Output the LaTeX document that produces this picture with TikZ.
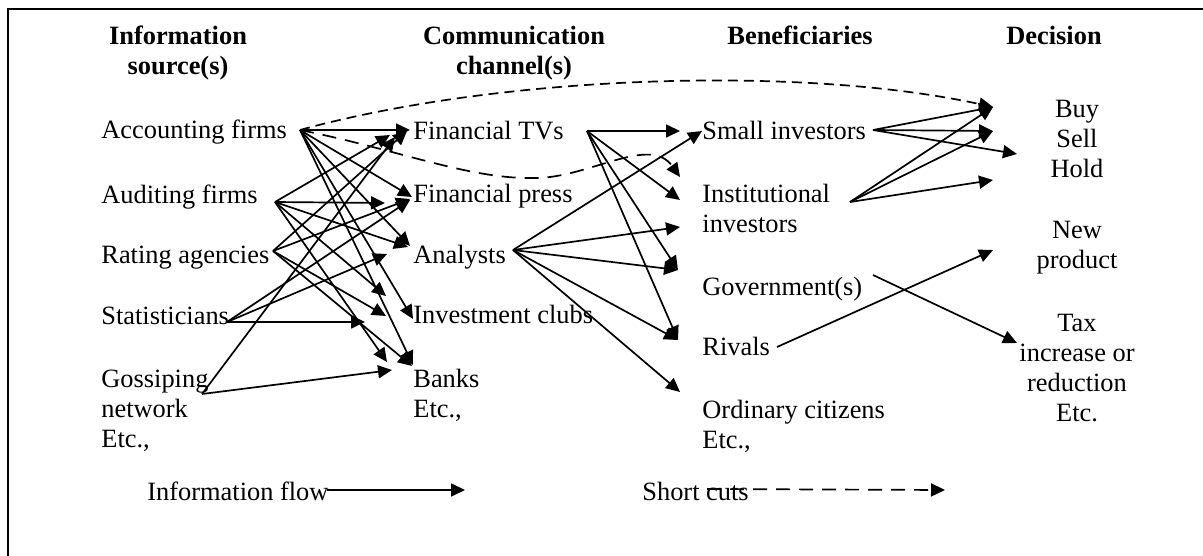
\documentclass[tikz,border=0pt]{standalone}
\usepackage{fontspec}
\setmainfont{Liberation Serif}
\usetikzlibrary{arrows.meta}

\begin{document}
\begin{tikzpicture}[x=0.5pt,y=-0.5pt]
\tikzstyle{every node}=[font=\fontsize{13.2}{15}\selectfont, inner sep=0pt]
\tikzstyle{item}=[anchor=base west, align=left]
\tikzstyle{choice}=[anchor=base, align=center]
\tikzstyle{head}=[choice, font=\fontsize{13.2}{15}\selectfont\bfseries]
\tikzstyle{flow}=[line width=0.85pt, -{Triangle[length=7pt,width=6.5pt]}]
\tikzstyle{shortcut}=[flow, dash pattern=on 7pt off 4.5pt]
\useasboundingbox (0,0) rectangle (1203,556);
\draw[line width=1pt] (8,570) -- (8,9) -- (1215,9);

\node[head] (hsrc) at (178,75) {Information\\source(s)};
\node[head] (hchan) at (514,75) {Communication\\channel(s)};
\node[head] (hben) at (800,45) {Beneficiaries};
\node[head] (hdec) at (1054,45) {Decision};

\node[item] (acc) at (101,139) {Accounting firms};
\node[item] (aud) at (101,203) {Auditing firms};
\node[item] (rat) at (101,263) {Rating agencies};
\node[item] (sta) at (101,324) {Statisticians};
\node[item] (gos) at (101,447) {Gossiping\\network\\Etc.,};

\node[item] (ftv) at (413,140) {Financial TVs};
\node[item] (fpr) at (413,202) {Financial press};
\node[item] (ana) at (413,263) {Analysts};
\node[item] (inv) at (413,323) {Investment clubs};
\node[item] (ban) at (413,417) {Banks\\Etc.,};

\node[item] (sml) at (702,140) {Small investors};
\node[item] (ins) at (702,232) {Institutional\\investors};
\node[item] (gov) at (702,295) {Government(s)};
\node[item] (riv) at (702,355) {Rivals};
\node[item] (ord) at (702,448) {Ordinary citizens\\Etc.,};

\node[choice] (bsh) at (1077,177) {Buy\\Sell\\Hold};
\node[choice] (npr) at (1077,268) {New\\product};
\node[choice] (tax) at (1077,421) {Tax\\increase or\\reduction\\Etc.};

\node[item] (lflow) at (147,500) {Information flow};
\node[item] (lcut) at (642,500) {Short cuts};

\coordinate (acc-o) at (300,130);
\coordinate (aud-o) at (275,202);
\coordinate (rat-o) at (273,251);
\coordinate (sta-o) at (227,322);
\coordinate (gos-o) at (202,394);
\coordinate (ftv-o) at (587,131);
\coordinate (ana-o) at (513,250);
\coordinate (sml-o) at (873,130);
\coordinate (ins-o) at (850,202);
\coordinate (gov-o) at (873,275);
\coordinate (riv-o) at (777,347);

\draw (acc-o) edge[flow] ([shift={(-3,-10)}]ftv.base west)
  edge[flow] ([shift={(-1,-5)}]fpr.base west)
  edge[flow] ([shift={(-3,-17)}]ana.base west)
  edge[flow] ([shift={(0,-4)}]inv.base west)
  edge[flow] ([shift={(0,-52)}]ban.base west);
\draw (aud-o) edge[flow] ([shift={(-23,-5)}]ftv.base west)
  edge[flow] ([shift={(-28,1)}]fpr.base west)
  edge[flow] ([shift={(-5,-16)}]ana.base west)
  edge[flow] ([shift={(-27,-27)}]inv.base west)
  edge[flow] ([shift={(-26,-55)}]ban.base west);
\draw (rat-o) edge[flow] ([shift={(-6,-9)}]ftv.base west)
  edge[flow] ([shift={(-3,-3)}]fpr.base west)
  edge[flow] ([shift={(-27,-7)}]inv.base west)
  edge[flow] ([shift={(-1,-51)}]ban.base west);
\draw (sta-o) edge[flow] ([shift={(-3,-2)}]fpr.base west)
  edge[flow] ([shift={(-26,-9)}]ana.base west)
  edge[flow] ([shift={(-48,-1)}]inv.base west);
\draw (gos-o) edge[flow] ([shift={(-18,-3)}]ftv.base west)
  edge[flow] ([shift={(-21,-47)}]ban.base west);

\draw (ftv-o) edge[flow] ([shift={(-22,-9)}]sml.base west)
  edge[flow] ([shift={(-22,-32)}]ins.base west)
  edge[flow] ([shift={(-24,-25)}]gov.base west)
  edge[flow] ([shift={(-24,-15)}]riv.base west);
\draw (ana-o) edge[flow] ([shift={(0,-9)}]sml.base west)
  edge[flow] ([shift={(-22,-5)}]ins.base west)
  edge[flow] ([shift={(-24,-25)}]gov.base west)
  edge[flow] ([shift={(-24,-15)}]riv.base west)
  edge[flow] ([shift={(-22,-56)}]ord.base west);

\draw (sml-o) edge[flow] ([shift={(-84,-70)}]bsh.base)
  edge[flow] ([shift={(-84,-46)}]bsh.base)
  edge[flow] ([shift={(-60,-23)}]bsh.base);
\draw (ins-o) edge[flow] ([shift={(-84,-70)}]bsh.base)
  edge[flow] ([shift={(-84,-46)}]bsh.base)
  edge[flow] ([shift={(-84,3)}]bsh.base);
\draw[flow] (gov-o) -- ([shift={(-60,-78)}]tax.base);
\draw[flow] (riv-o) -- ([shift={(-84,-18)}]npr.base);

\draw[shortcut, dash pattern=on 5pt off 3pt] (acc-o) .. controls (500,75) and (800,65) .. ([shift={(-84,-70)}]bsh.base);
\draw[shortcut] (acc-o) .. controls (400,150) and (470,180) .. (537,178)
  .. controls (590,177) and (650,135) .. ([shift={(-22,-55)}]ins.base west);

\coordinate (lflow-e) at (465,490);
\coordinate (lcut-s) at (707,489);
\coordinate (lcut-e) at (945,490);
\draw[flow] ([shift={(-2,-10)}]lflow.base east) -- (lflow-e);
\draw[shortcut] (lcut-s) -- (lcut-e);
\end{tikzpicture}
\end{document}
